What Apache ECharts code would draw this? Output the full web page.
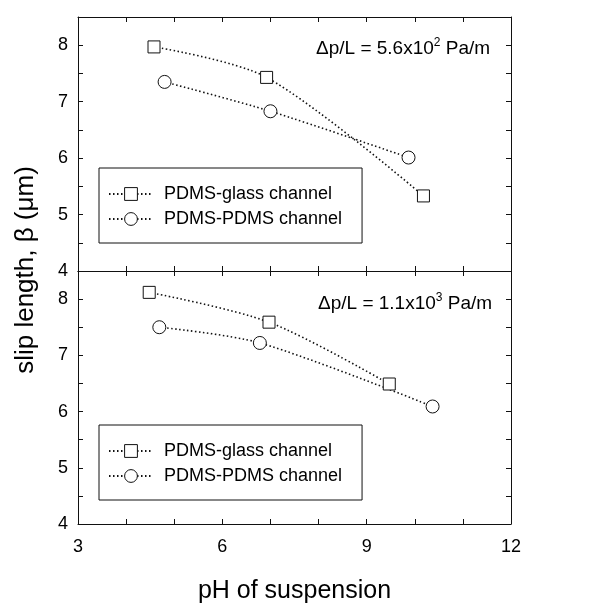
<!DOCTYPE html>
<html><head><meta charset="utf-8">
<script src="https://cdn.jsdelivr.net/npm/echarts@6/dist/echarts.min.js"></script>
<style>html,body{margin:0;padding:0;background:#fff}#c{width:611px;height:605px}</style>
</head><body><div id="c"></div>
<script>
const seriesNames = ['PDMS-glass channel', 'PDMS-PDMS channel'];
// top panel: Δp/L = 5.6x10^2 Pa/m
const topGlassPH = [4.58, 6.92, 10.18];
const topGlassSlip = [7.97, 7.43, 5.33];
const topPdmsPH = [4.80, 7.00, 9.87];
const topPdmsSlip = [7.35, 6.83, 6.01];
// bottom panel: Δp/L = 1.1x10^3 Pa/m
const botGlassPH = [4.48, 6.97, 9.47];
const botGlassSlip = [8.12, 7.59, 6.49];
const botPdmsPH = [4.69, 6.78, 10.37];
const botPdmsSlip = [7.50, 7.22, 6.09];
const xTickLabels = [3, 6, 9, 12];
const yTickLabels = [4, 5, 6, 7, 8];
const annotations = [['5.6x10', '2'], ['1.1x10', '3']];

const FONT = 'Liberation Sans, Arial, sans-serif';
const INK = '#111';
const zip = (a, b) => a.map((v, i) => [v, b[i]]);

function xAx(grid, pos, labels) {
  return {
    type: 'value', gridIndex: grid, position: pos, min: 3, max: 12, interval: 1,
    axisLine: {show: true, onZero: false, lineStyle: {color: INK, width: 1}},
    axisTick: {show: true, inside: true, length: 5, lineStyle: {color: INK}},
    splitLine: {show: false},
    axisLabel: {show: labels, margin: 14, color: '#000', fontSize: 18, fontFamily: FONT,
      formatter: v => xTickLabels.includes(v) ? String(v) : ''},
    name: labels ? 'pH of suspension' : '', nameLocation: 'middle', nameGap: 55,
    nameTextStyle: {fontSize: 25, color: '#000', fontFamily: FONT}
  };
}
function yAx(grid, pos, labels) {
  return {
    type: 'value', gridIndex: grid, position: pos, min: 4, max: 8.5, interval: 0.5,
    axisLine: {show: true, onZero: false, lineStyle: {color: INK, width: 1}},
    axisTick: {show: true, inside: true, length: 5, lineStyle: {color: INK}},
    splitLine: {show: false},
    axisLabel: {show: labels, margin: 10, color: '#000', fontSize: 18, fontFamily: FONT,
      formatter: v => yTickLabels.includes(v) ? String(v) : ''}
  };
}
function ser(name, data, sym, xi, yi) {
  return {
    name, type: 'line', data, smooth: 0.3, xAxisIndex: xi, yAxisIndex: yi,
    symbol: sym, symbolSize: sym === 'rect' ? 12 : 13, z: 3,
    itemStyle: {color: '#fff', borderColor: INK, borderWidth: 1},
    lineStyle: {color: INK, width: 1.6, type: [1.5, 2.5]},
    emphasis: {disabled: true}
  };
}
function legend(top) {
  return {
    show: true, orient: 'vertical', left: 99, top: top,
    data: seriesNames,
    borderColor: INK, borderWidth: 1, padding: [17, 20, 15, 9],
    itemWidth: 44, itemHeight: 16, itemGap: 7,
    itemStyle: {color: '#fff', borderColor: INK, borderWidth: 1},
    textStyle: {fontSize: 18, color: '#000', fontFamily: FONT, padding: [0, 0, 0, 6]},
    selectedMode: false
  };
}
function annot(i, x, y) {
  return {
    type: 'text', left: x, top: y,
    style: {
      text: '{a|Δp/L = ' + annotations[i][0] + '}{s|' + annotations[i][1] + '}{a| Pa/m}',
      rich: {
        a: {fontSize: 19, fontFamily: FONT, fill: '#000', verticalAlign: 'bottom', lineHeight: 22},
        s: {fontSize: 12, fontFamily: FONT, fill: '#000', verticalAlign: 'bottom', lineHeight: 22, padding: [0, 0, 9, 0]}
      }
    }
  };
}

const chart = echarts.init(document.getElementById('c'), null, {renderer: 'canvas'});
chart.setOption({
  animation: false,
  backgroundColor: '#fff',
  grid: [
    {left: 78, top: 17, width: 433, height: 254, show: false},
    {left: 78, top: 271, width: 433, height: 254, show: false}
  ],
  xAxis: [xAx(0, 'bottom', false), xAx(0, 'top', false), xAx(1, 'bottom', true), xAx(1, 'top', false)],
  yAxis: [yAx(0, 'left', true), yAx(0, 'right', false), yAx(1, 'left', true), yAx(1, 'right', false)],
  legend: [legend(168), legend(425)],
  series: [
    ser(seriesNames[0], zip(topGlassPH, topGlassSlip), 'rect', 0, 0),
    ser(seriesNames[1], zip(topPdmsPH, topPdmsSlip), 'circle', 0, 0),
    ser(seriesNames[0], zip(botGlassPH, botGlassSlip), 'rect', 2, 2),
    ser(seriesNames[1], zip(botPdmsPH, botPdmsSlip), 'circle', 2, 2)
  ],
  graphic: [
    annot(0, 316, 37),
    annot(1, 318, 292),
    {type: 'text', x: 26, y: 270, rotation: Math.PI / 2,
     style: {text: 'slip length, β (μm)', fontSize: 26, fontFamily: FONT, fill: '#000',
       align: 'center', verticalAlign: 'middle'}}
  ]
});
</script></body></html>
